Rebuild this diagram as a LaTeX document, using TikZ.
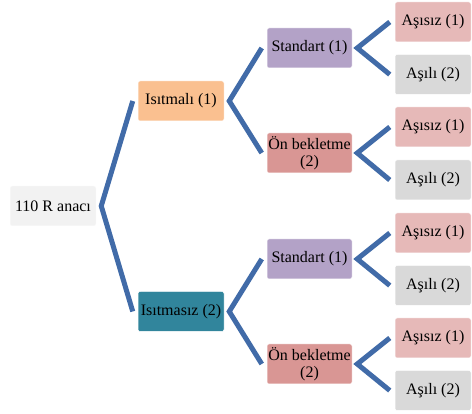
\documentclass[tikz,border=0pt]{standalone}
\usepackage{fontspec}
\setmainfont{Liberation Serif}
\usetikzlibrary{calc}
\definecolor{rootc}{HTML}{F2F2F2}
\definecolor{orangec}{HTML}{FAC090}
\definecolor{tealc}{HTML}{31859C}
\definecolor{lavc}{HTML}{B3A2C7}
\definecolor{rosec}{HTML}{D99694}
\definecolor{pinkc}{HTML}{E6B9B8}
\definecolor{grayc}{HTML}{D9D9D9}
\definecolor{connc}{HTML}{416BA8}
\begin{document}
\begin{tikzpicture}[x=1pt,y=-1pt,
  box/.style={rounded corners=2pt, draw=white, line width=0.5pt, minimum height=40pt,
    inner sep=0pt, align=center, font=\fontsize{16}{17}\selectfont},
  lvlzero/.style={box, minimum width=86pt},
  lvlone/.style={box, minimum width=86pt},
  lvltwo/.style={box, minimum width=85pt},
  lvlthree/.style={box, minimum width=76pt},
  conn/.style={draw=connc, line width=5pt, line join=miter}]
\useasboundingbox (0,0) rectangle (472,414);
\node[lvlzero, fill=rootc] (r) at (53,206) {110 R anacı};
\node[lvlone, fill=orangec] (a) at (181,101) {Isıtmalı (1)};
\node[lvlone, fill=tealc] (b) at (181,311.5) {Isıtmasız (2)};
\node[lvltwo, fill=lavc] (a1) at (309.5,48) {Standart (1)};
\node[lvltwo, fill=rosec] (a2) at (309.5,153) {Ön bekletme\\(2)};
\node[lvltwo, fill=lavc] (b1) at (309.5,259) {Standart (1)};
\node[lvltwo, fill=rosec] (b2) at (309.5,364) {Ön bekletme\\(2)};
\node[lvlthree, fill=pinkc] (a11) at (433,22) {Aşısız (1)};
\node[lvlthree, fill=grayc] (a12) at (433,74.5) {Aşılı (2)};
\node[lvlthree, fill=pinkc] (a21) at (433,127) {Aşısız (1)};
\node[lvlthree, fill=grayc] (a22) at (433,180) {Aşılı (2)};
\node[lvlthree, fill=pinkc] (b11) at (433,233) {Aşısız (1)};
\node[lvlthree, fill=grayc] (b12) at (433,285.5) {Aşılı (2)};
\node[lvlthree, fill=pinkc] (b21) at (433,338) {Aşısız (1)};
\node[lvlthree, fill=grayc] (b22) at (433,390.5) {Aşılı (2)};
\foreach \p/\u/\v in {r/a/b, a/a1/a2, b/b1/b2, a1/a11/a12, a2/a21/a22, b1/b11/b12, b2/b21/b22}
  \draw[conn] ($(\u.west)+(-5,0)$) -- ($(\p.east)+(5,0)$) -- ($(\v.west)+(-5,0)$);
\end{tikzpicture}
\end{document}
